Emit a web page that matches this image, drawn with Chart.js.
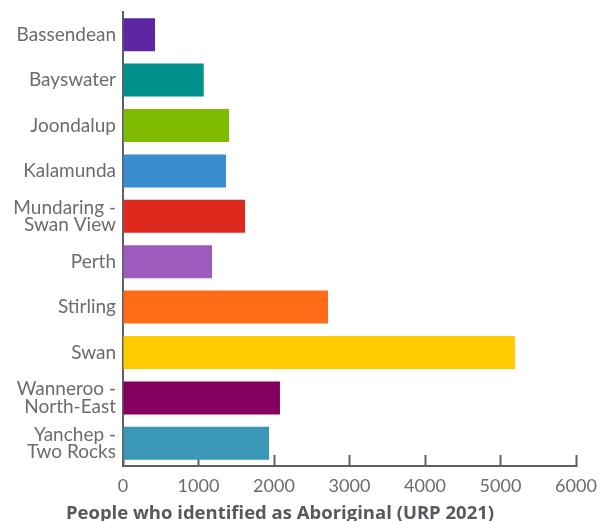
<!DOCTYPE html>
<html>
<head>
<meta charset="utf-8">
<script src="https://cdn.jsdelivr.net/npm/chart.js@4"></script>
<style>
    html, body { margin: 0; padding: 0; background: #fff; }
    #wrap { width: 601px; height: 521px; }
</style>
</head>
<body>
<div id="wrap"><canvas id="chart" width="601" height="521"></canvas></div>
<script>
// LGA names (multi-line ones split into arrays)
const lgaNames = [
    'Bassendean',
    'Bayswater',
    'Joondalup',
    'Kalamunda',
    ['Mundaring -', 'Swan View'],
    'Perth',
    'Stirling',
    'Swan',
    ['Wanneroo -', 'North-East'],
    ['Yanchep -', 'Two Rocks']
];

// people who identified as Aboriginal, URP 2021
const aboriginalCnt = [424, 1069, 1404, 1364, 1616, 1179, 2715, 5192, 2079, 1934];

const barColors = ['#5c27a0',
    '#00918c',
    '#7fbb00',
    '#3a8ecf',
    '#e0291e',
    '#9c5bbd',
    '#ff6b16',
    '#ffcb00',
    '#85005e',
    '#3a97b5'];

const xTicks = [0, 1000, 2000, 3000, 4000, 5000, 6000];

const axisColor = '#5f5f66';
const labelColor = '#6b6b70';

Chart.defaults.font.family = 'Lato, "Open Sans", sans-serif';
Chart.defaults.color = labelColor;

const chart = new Chart(document.getElementById('chart'), {
    type: 'bar',
    data: {
        labels: lgaNames,
        datasets: [{
            label: 'People who identified as Aboriginal (URP 2021)',
            data: aboriginalCnt,
            backgroundColor: barColors,
            borderWidth: 0,
            categoryPercentage: 1,
            barPercentage: 0.727
        }]
    },
    options: {
        indexAxis: 'y',
        responsive: false,
        animation: false,
        layout: {
            // left is negative so the bottom title sits a little left of centre
            padding: { top: 12, right: 25, left: -16, bottom: -2 }
        },
        plugins: {
            legend: { display: false },
            tooltip: { enabled: false },
            title: {
                display: true,
                position: 'bottom',
                fullSize: true,
                text: 'People who identified as Aboriginal (URP 2021)',
                color: '#58585e',
                font: { family: '"Open Sans", Lato, sans-serif', size: 18.5, weight: 'bold', lineHeight: 1 },
                padding: { top: 0, bottom: 0 }
            }
        },
        scales: {
            x: {
                min: xTicks[0],
                max: xTicks[xTicks.length - 1],
                afterBuildTicks: function(scale) {
                    scale.ticks = xTicks.map(v => ({ value: v }));
                },
                afterFit: function(scale) {
                    scale.height = 38.5;
                    scale.paddingLeft = 0;
                    scale.paddingRight = 0;
                },
                grid: {
                    drawOnChartArea: false,
                    drawTicks: true,
                    tickLength: -11,
                    tickWidth: 2,
                    tickColor: axisColor
                },
                border: { display: true, color: axisColor, width: 2 },
                ticks: {
                    padding: 20,
                    color: labelColor,
                    font: { size: 18 },
                    callback: function(value) {
                        return String(value);
                    }
                }
            },
            y: {
                afterFit: function(scale) {
                    scale.width = 139;
                    scale.paddingTop = 0;
                    scale.paddingBottom = 0;
                },
                grid: {
                    drawOnChartArea: false,
                    drawTicks: false
                },
                border: { display: true, color: axisColor, width: 2 },
                ticks: {
                    padding: 7,
                    color: labelColor,
                    font: { size: 19, lineHeight: 0.9 }
                }
            }
        }
    }
});
</script>
</body>
</html>
